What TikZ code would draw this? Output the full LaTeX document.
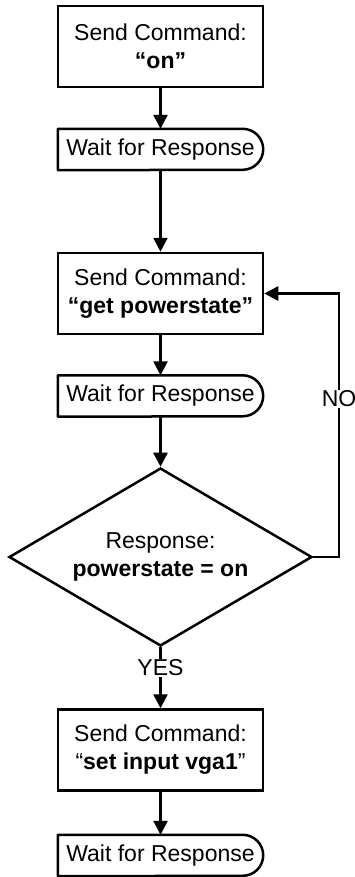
\documentclass[tikz,border=0pt]{standalone}
\usepackage{fontspec}
\setmainfont{Liberation Sans}
\usetikzlibrary{arrows.meta,shapes.geometric}
\newcommand\fsz{\fontsize{23}{28}\selectfont}
\newcommand\waitshape[1]{\draw[line width=2.5pt,line join=round] (#1.north west) -- ([xshift=-20.5pt]#1.north east) arc[start angle=90,end angle=-90,radius=20.5pt] -- (#1.south west) -- cycle;}
\begin{document}
\begin{tikzpicture}[x=1pt,y=-1pt,
  box/.style={draw, line width=2.5pt, minimum width=205pt, minimum height=81pt, align=center, inner sep=0pt, font=\fsz},
  waitbox/.style={minimum width=205pt, minimum height=41pt, inner sep=0pt, font=\fsz},
  conn/.style={line width=2.5pt, -{Triangle[length=14pt,width=14pt]}},
  lbl/.style={fill=white, inner sep=1pt, font=\fsz}]
\useasboundingbox (0,0) rectangle (355,877);
\node[box] (b1) at (160.5,46.5) {Send Command:\\\textbf{“on”}};
\node[waitbox] (w1) at (160.5,149.5) {Wait for Response};
\node[box] (b2) at (160.5,293.5) {Send Command:\\\textbf{“get powerstate”}};
\node[waitbox] (w2) at (160.5,396) {Wait for Response};
\node[draw, diamond, line width=2.5pt, minimum width=303pt, minimum height=178pt, aspect=1.7, inner sep=0pt, align=center, font=\fsz] (d) at (160.5,557) {Response:\\\textbf{powerstate = on}};
\node[box] (b3) at (160.5,750) {Send Command:\\“\textbf{set input vga1}”};
\node[waitbox] (w3) at (160.5,855.5) {Wait for Response};
\waitshape{w1}
\waitshape{w2}
\waitshape{w3}
\coordinate (nc) at (339,557);
\draw[conn] (b1) -- (w1);
\draw[conn] (w1) -- (b2);
\draw[conn] (b2) -- (w2);
\draw[conn] (w2) -- (d);
\draw[conn] (d.south) -- (b3.north) node[lbl, pos=0.34] {YES};
\draw[conn] (b3) -- (w3);
\draw[conn] (d.east) -- (nc) |- (b2.east) node[lbl, pos=0.3] {NO};
\end{tikzpicture}
\end{document}
